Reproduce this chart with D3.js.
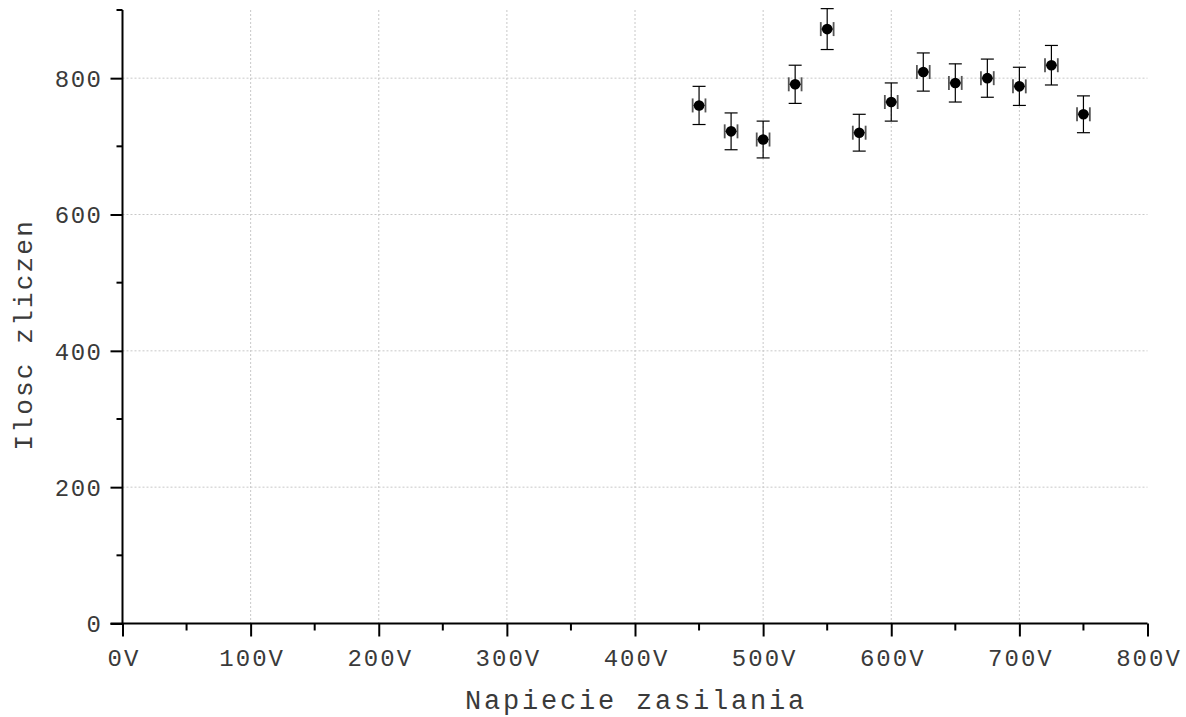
<!DOCTYPE html>
<html><head><meta charset="utf-8">
<script src="https://cdn.jsdelivr.net/npm/d3@7"></script>
<style>body{margin:0;background:#fff}svg{display:block}</style>
</head><body>
<svg id="c" width="1186" height="717"></svg>
<script>
const voltages = [450, 475, 500, 525, 550, 575, 600, 625, 650, 675, 700, 725, 750];
const counts   = [760, 722, 710, 791, 872, 720, 765, 809, 793, 800, 788, 819, 747];
const countErr = [28, 27, 27, 28, 30, 27, 28, 28, 28, 28, 28, 29, 27];
const voltErr  = [5, 5, 5, 5, 5, 5, 5, 5, 5, 5, 5, 5, 5];
const xTicks = [0, 100, 200, 300, 400, 500, 600, 700, 800];
const xMinor = [50, 150, 250, 350, 450, 550, 650, 750];
const yTicks = [0, 200, 400, 600, 800];
const yMinor = [100, 300, 500, 700, 900];
const xTitle = "Napiecie zasilania";
const yTitle = "Ilosc zliczen";

const svg = d3.select("#c");
const L = 122.5, R = 1147.5, T = 10, B = 623.5;
const x = d3.scaleLinear().domain([0, 800]).range([L, R]);
const y = d3.scaleLinear().domain([0, 900]).range([B, T]);
const font = "'Liberation Mono', monospace";
const txt = "#3a3a3a";

// grid
svg.append("g").selectAll("line").data(xTicks.filter(d => d > 0 && d < 800)).join("line")
  .attr("x1", d => x(d)).attr("x2", d => x(d)).attr("y1", T).attr("y2", B)
  .attr("stroke", "#c8c8c8").attr("stroke-width", 1).attr("stroke-dasharray", "2,2");
svg.append("g").selectAll("line").data(yTicks.filter(d => d > 0)).join("line")
  .attr("x1", L).attr("x2", R).attr("y1", d => y(d)).attr("y2", d => y(d))
  .attr("stroke", "#c8c8c8").attr("stroke-width", 1).attr("stroke-dasharray", "2,2");

// axes
const xAx = svg.append("g").attr("transform", `translate(0,${B})`)
  .call(d3.axisBottom(x).tickValues(xTicks).tickSize(13).tickFormat(d => d + "V").tickSizeOuter(0));
xAx.append("g").selectAll("line").data(xMinor).join("line")
  .attr("x1", d => x(d)).attr("x2", d => x(d)).attr("y1", 0).attr("y2", 7)
  .attr("stroke", "#000").attr("stroke-width", 2);
const yAx = svg.append("g").attr("transform", `translate(${L},0)`)
  .call(d3.axisLeft(y).tickValues(yTicks).tickSize(12).tickSizeOuter(0));
yAx.append("g").selectAll("line").data(yMinor).join("line")
  .attr("x1", 0).attr("x2", -6).attr("y1", d => y(d)).attr("y2", d => y(d))
  .attr("stroke", "#000").attr("stroke-width", 2);
[xAx, yAx].forEach(g => {
  g.select(".domain").attr("stroke", "#000").attr("stroke-width", 2);
  g.selectAll(".tick line").attr("stroke", "#000").attr("stroke-width", 2);
  g.selectAll(".tick text").attr("font-family", font).attr("font-size", 24)
    .attr("fill", txt).style("letter-spacing", "2px");
});
xAx.selectAll(".tick text").attr("y", 0).attr("dy", 0).attr("transform", "translate(1,42)");
yAx.selectAll(".tick text").attr("x", -20).attr("dy", "0.35em").style("letter-spacing", "1.5px");
yAx.select(".domain").attr("d", `M0,${T}V${B}`);
xAx.select(".domain").attr("d", `M${L - 12},0H${R}`);

// titles
svg.append("text").attr("x", (L + R) / 2 + 1).attr("y", 709).attr("text-anchor", "middle")
  .attr("font-family", font).attr("font-size", 27).attr("fill", txt)
  .style("letter-spacing", "2.8px").text(xTitle);
svg.append("text").attr("transform", `translate(32,${(T + B) / 2 + 18}) rotate(-90)`)
  .attr("text-anchor", "middle")
  .attr("font-family", font).attr("font-size", 26).attr("fill", txt)
  .style("letter-spacing", "2.2px").text(yTitle);

// data
const pts = voltages.map((v, i) => ({v, c: counts[i], ey: countErr[i], ex: voltErr[i]}));
const g = svg.append("g");
const pg = g.selectAll("g").data(pts).join("g");
// x error (grey)
pg.append("line").attr("x1", d => x(d.v - d.ex)).attr("x2", d => x(d.v + d.ex))
  .attr("y1", d => y(d.c)).attr("y2", d => y(d.c)).attr("stroke", "#555").attr("stroke-width", 1.5);
pg.append("line").attr("x1", d => x(d.v - d.ex)).attr("x2", d => x(d.v - d.ex))
  .attr("y1", d => y(d.c) - 7).attr("y2", d => y(d.c) + 7).attr("stroke", "#555").attr("stroke-width", 1.8);
pg.append("line").attr("x1", d => x(d.v + d.ex)).attr("x2", d => x(d.v + d.ex))
  .attr("y1", d => y(d.c) - 7).attr("y2", d => y(d.c) + 7).attr("stroke", "#555").attr("stroke-width", 1.8);
// y error (black)
pg.append("line").attr("x1", d => x(d.v)).attr("x2", d => x(d.v))
  .attr("y1", d => y(d.c - d.ey)).attr("y2", d => y(d.c + d.ey)).attr("stroke", "#000").attr("stroke-width", 1.2);
pg.append("line").attr("x1", d => x(d.v) - 6.5).attr("x2", d => x(d.v) + 6.5)
  .attr("y1", d => y(d.c - d.ey)).attr("y2", d => y(d.c - d.ey)).attr("stroke", "#000").attr("stroke-width", 1.2);
pg.append("line").attr("x1", d => x(d.v) - 6.5).attr("x2", d => x(d.v) + 6.5)
  .attr("y1", d => y(d.c + d.ey)).attr("y2", d => y(d.c + d.ey)).attr("stroke", "#000").attr("stroke-width", 1.2);
pg.append("circle").attr("cx", d => x(d.v)).attr("cy", d => y(d.c)).attr("r", 5.3).attr("fill", "#000");
</script>
</body></html>
